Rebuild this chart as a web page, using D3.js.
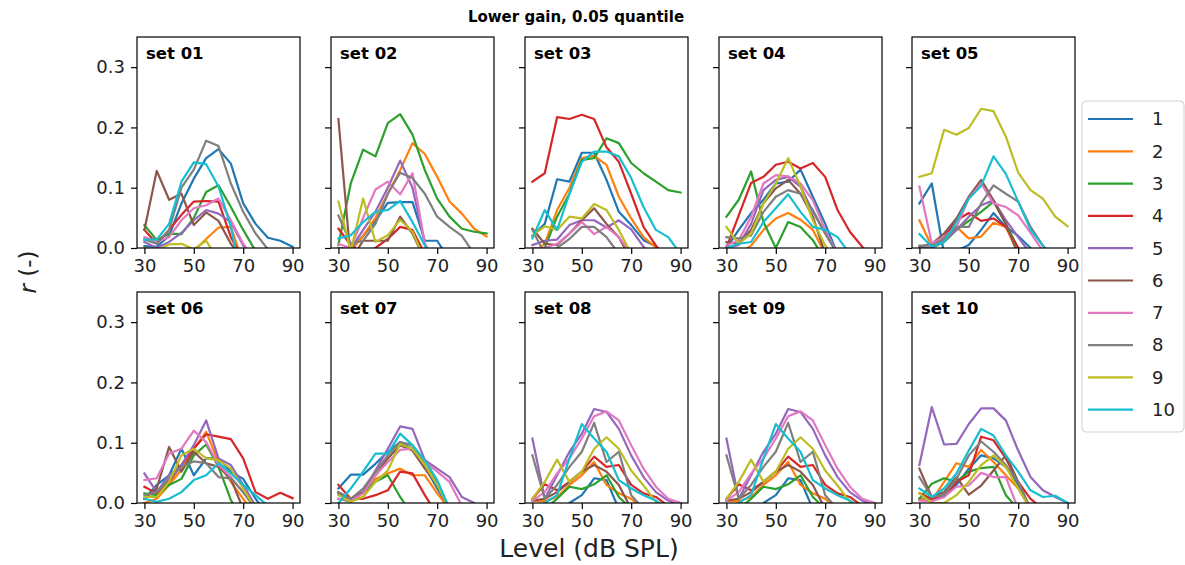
<!DOCTYPE html>
<html>
<head>
<meta charset="utf-8">
<script src="https://cdn.jsdelivr.net/npm/d3@7"></script>
<style>
  body { margin: 0; background: #fff; }
  svg { display: block; font-family: "DejaVu Sans", sans-serif; }
</style>
</head>
<body>
<svg id="chart" width="1185" height="565"></svg>
<script>
// Presentation levels (dB SPL) at which r was evaluated
const levels = [30, 35, 40, 45, 50, 55, 60, 65, 70, 75, 80, 85, 90];
const seriesNames = ["1", "2", "3", "4", "5", "6", "7", "8", "9", "10"];
const setNames = ["set 01", "set 02", "set 03", "set 04", "set 05",
                  "set 06", "set 07", "set 08", "set 09", "set 10"];
const xTicks = [30, 50, 70, 90];
const yTicks = [0, 0.1, 0.2, 0.3];
const palette = ["#1f77b4", "#ff7f0e", "#2ca02c", "#d62728", "#9467bd",
                 "#8c564b", "#e377c2", "#7f7f7f", "#bcbd22", "#17becf"];

// r per series (rows: series 1..10, columns: levels). Negative values fall below the axis.
const set01 = [
  [0.003, 0.002, 0.02, 0.074, 0.115, 0.149, 0.164, 0.14, 0.074, 0.04, 0.017, 0.012, 0.002],
  [-0.03, -0.03, -0.03, -0.02, -0.005, 0.015, 0.034, 0.035, -0.025, -0.03, -0.03, -0.03, -0.03],
  [0.038, 0.013, 0.024, 0.023, 0.05, 0.093, 0.104, 0.068, 0.03, -0.005, -0.03, -0.03, -0.03],
  [0.03, 0.007, 0.03, 0.055, 0.077, 0.078, 0.077, 0.018, -0.02, -0.03, -0.03, -0.03, -0.03],
  [0.01, 0.0, 0.01, 0.025, 0.046, 0.063, 0.057, 0.043, 0.004, -0.02, -0.03, -0.03, -0.03],
  [0.03, 0.128, 0.08, 0.09, 0.038, 0.059, 0.045, 0.007, -0.02, -0.03, -0.03, -0.03, -0.03],
  [0.018, 0.01, 0.018, 0.046, 0.066, 0.071, 0.082, 0.046, 0.007, -0.02, -0.03, -0.03, -0.03],
  [0.014, 0.007, 0.03, 0.1, 0.13, 0.178, 0.169, 0.107, 0.06, 0.024, -0.002, -0.02, -0.03],
  [0.0, -0.005, 0.006, 0.007, -0.002, 0.012, -0.02, -0.03, -0.03, -0.03, -0.03, -0.03, -0.03],
  [0.014, 0.014, 0.04, 0.11, 0.142, 0.139, 0.102, 0.035, -0.06, -0.06, -0.06, -0.06, -0.06]
];
const set02 = [
  [0.0, -0.002, 0.02, 0.045, 0.075, 0.076, 0.076, 0.012, 0.012, -0.02, -0.03, -0.03, -0.03],
  [0.0, -0.005, 0.02, 0.05, 0.09, 0.129, 0.174, 0.156, 0.118, 0.077, 0.057, 0.032, 0.019],
  [0.005, 0.107, 0.163, 0.152, 0.207, 0.222, 0.188, 0.129, 0.082, 0.052, 0.032, 0.027, 0.024],
  [0.032, 0.005, -0.01, 0.0, 0.015, 0.035, 0.03, -0.01, -0.03, -0.03, -0.03, -0.03, -0.03],
  [0.0, -0.002, 0.03, 0.06, 0.1, 0.145, 0.1, 0.007, -0.03, -0.03, -0.03, -0.03, -0.03],
  [0.214, -0.02, 0.012, 0.012, 0.012, 0.052, 0.024, -0.02, -0.03, -0.03, -0.03, -0.03, -0.03],
  [0.007, 0.0, 0.05, 0.097, 0.11, 0.089, 0.124, 0.007, -0.03, -0.03, -0.03, -0.03, -0.03],
  [0.054, 0.007, 0.012, 0.04, 0.09, 0.125, 0.116, 0.09, 0.052, 0.035, 0.02, -0.01, -0.03],
  [0.077, -0.005, 0.082, 0.01, 0.021, 0.047, 0.027, -0.02, -0.03, -0.03, -0.03, -0.03, -0.03],
  [0.016, 0.021, 0.043, 0.06, 0.063, 0.078, 0.043, 0.004, -0.03, -0.03, -0.03, -0.03, -0.03]
];
const set03 = [
  [0.02, 0.04, 0.114, 0.11, 0.158, 0.158, 0.113, 0.06, 0.038, 0.013, 0.003, -0.02, -0.03],
  [-0.01, 0.007, 0.063, 0.1, 0.149, 0.153, 0.138, 0.085, 0.049, 0.018, 0.001, -0.02, -0.03],
  [-0.02, 0.0, 0.052, 0.09, 0.146, 0.149, 0.182, 0.174, 0.141, 0.124, 0.11, 0.096, 0.092],
  [0.11, 0.124, 0.217, 0.214, 0.221, 0.214, 0.167, 0.143, 0.09, 0.035, 0.004, -0.02, -0.03],
  [0.005, 0.012, 0.014, 0.038, 0.046, 0.046, 0.034, 0.046, 0.031, 0.002, -0.02, -0.03, -0.03],
  [0.032, 0.007, 0.005, 0.024, 0.046, 0.066, 0.04, 0.018, -0.02, -0.03, -0.03, -0.03, -0.03],
  [0.0, 0.0, 0.007, 0.024, 0.043, 0.023, 0.035, 0.018, -0.01, -0.03, -0.03, -0.03, -0.03],
  [0.03, -0.01, 0.0, 0.015, 0.035, 0.035, 0.018, -0.01, -0.03, -0.03, -0.03, -0.03, -0.03],
  [0.021, 0.036, 0.03, 0.052, 0.049, 0.073, 0.063, 0.03, -0.01, -0.03, -0.03, -0.03, -0.03],
  [0.016, 0.063, 0.03, 0.09, 0.143, 0.16, 0.16, 0.152, 0.116, 0.068, 0.03, 0.018, -0.01]
];
const set04 = [
  [0.0, 0.03, 0.058, 0.08, 0.107, 0.11, 0.13, 0.085, 0.04, -0.01, -0.03, -0.03, -0.03],
  [-0.02, -0.01, 0.004, 0.03, 0.049, 0.058, 0.047, 0.03, -0.01, -0.03, -0.03, -0.03, -0.03],
  [0.052, 0.08, 0.127, 0.043, 0.0, 0.043, 0.035, 0.013, -0.02, -0.03, -0.03, -0.03, -0.03],
  [0.0, 0.054, 0.108, 0.118, 0.138, 0.143, 0.132, 0.141, 0.118, 0.063, 0.027, 0.002, -0.02],
  [0.0, 0.005, 0.04, 0.096, 0.113, 0.118, 0.102, 0.06, 0.024, -0.01, -0.03, -0.03, -0.03],
  [0.01, 0.007, 0.03, 0.074, 0.099, 0.113, 0.09, 0.052, -0.01, -0.03, -0.03, -0.03, -0.03],
  [0.004, 0.013, 0.052, 0.107, 0.121, 0.119, 0.107, 0.079, 0.03, -0.01, -0.03, -0.03, -0.03],
  [0.018, 0.016, 0.021, 0.06, 0.085, 0.096, 0.09, 0.063, 0.024, -0.01, -0.03, -0.03, -0.03],
  [0.035, 0.007, 0.024, 0.074, 0.107, 0.149, 0.102, 0.046, 0.004, -0.02, -0.03, -0.03, -0.03],
  [0.0, 0.007, 0.01, 0.043, 0.066, 0.089, 0.06, 0.035, 0.03, 0.018, -0.01, -0.03, -0.03]
];
const set05 = [
  [0.074, 0.107, -0.01, -0.005, 0.005, 0.03, 0.058, 0.035, 0.02, 0.0, -0.02, -0.03, -0.03],
  [0.046, 0.003, 0.013, 0.035, 0.016, 0.019, 0.042, 0.035, -0.01, -0.03, -0.03, -0.03, -0.03],
  [-0.01, 0.0, 0.01, 0.03, 0.045, 0.06, 0.077, 0.04, 0.0, -0.02, -0.03, -0.03, -0.03],
  [-0.01, 0.0, 0.018, 0.046, 0.058, 0.045, 0.049, 0.035, 0.0, -0.02, -0.03, -0.03, -0.03],
  [0.0, 0.0, 0.013, 0.03, 0.052, 0.071, 0.079, 0.046, 0.018, -0.01, -0.03, -0.03, -0.03],
  [0.002, 0.007, 0.024, 0.049, 0.085, 0.113, 0.079, 0.04, -0.01, -0.03, -0.03, -0.03, -0.03],
  [0.102, 0.008, 0.018, 0.035, 0.082, 0.107, 0.074, 0.068, 0.054, 0.025, -0.005, -0.02, -0.03],
  [0.004, 0.004, 0.016, 0.035, 0.035, 0.074, 0.104, 0.09, 0.077, 0.035, 0.004, -0.02, -0.03],
  [0.118, 0.124, 0.196, 0.188, 0.199, 0.231, 0.227, 0.185, 0.125, 0.096, 0.082, 0.052, 0.036],
  [0.023, 0.002, 0.01, 0.043, 0.082, 0.103, 0.152, 0.123, 0.077, 0.03, 0.004, -0.02, -0.03]
];
const set06 = [
  [0.007, 0.03, 0.046, 0.09, 0.046, 0.074, 0.074, 0.052, 0.04, 0.007, -0.02, -0.03, -0.03],
  [0.0, 0.007, 0.03, 0.055, 0.09, 0.118, 0.068, 0.035, 0.007, -0.02, -0.03, -0.03, -0.03],
  [0.016, 0.013, 0.03, 0.04, 0.079, 0.097, 0.06, 0.005, -0.03, -0.03, -0.03, -0.03, -0.03],
  [0.027, 0.016, 0.035, 0.063, 0.09, 0.114, 0.11, 0.106, 0.074, 0.018, 0.007, 0.017, 0.008],
  [0.049, 0.018, 0.046, 0.063, 0.096, 0.137, 0.074, 0.063, 0.03, -0.005, -0.03, -0.03, -0.03],
  [0.007, 0.024, 0.093, 0.052, 0.085, 0.066, 0.06, 0.04, -0.01, -0.03, -0.03, -0.03, -0.03],
  [0.038, 0.041, 0.082, 0.09, 0.12, 0.101, 0.063, 0.043, 0.018, -0.01, -0.03, -0.03, -0.03],
  [0.013, 0.018, 0.04, 0.06, 0.069, 0.066, 0.043, 0.041, 0.018, -0.01, -0.03, -0.03, -0.03],
  [0.01, 0.01, 0.035, 0.079, 0.09, 0.074, 0.071, 0.057, 0.024, -0.01, -0.03, -0.03, -0.03],
  [0.007, 0.002, 0.007, 0.018, 0.038, 0.046, 0.066, 0.049, 0.03, 0.013, -0.005, -0.03, -0.03]
];
const set07 = [
  [0.024, 0.047, 0.047, 0.065, 0.085, 0.101, 0.09, 0.06, 0.024, -0.01, -0.03, -0.03, -0.03],
  [0.015, 0.004, 0.01, 0.04, 0.049, 0.057, 0.046, 0.046, 0.016, -0.01, -0.03, -0.03, -0.03],
  [0.007, 0.002, 0.018, 0.035, 0.046, 0.01, -0.02, -0.03, -0.03, -0.03, -0.03, -0.03, -0.03],
  [0.03, 0.007, 0.007, 0.013, 0.021, 0.052, 0.049, 0.013, -0.02, -0.03, -0.03, -0.03, -0.03],
  [0.016, 0.007, 0.018, 0.054, 0.09, 0.127, 0.123, 0.071, 0.057, 0.043, 0.01, 0.0, -0.02],
  [0.018, 0.007, 0.018, 0.046, 0.074, 0.096, 0.087, 0.057, 0.03, -0.01, -0.03, -0.03, -0.03],
  [0.007, 0.004, 0.016, 0.046, 0.068, 0.088, 0.09, 0.068, 0.052, 0.035, -0.005, -0.03, -0.03],
  [0.018, 0.007, 0.024, 0.052, 0.079, 0.101, 0.096, 0.063, 0.035, -0.01, -0.03, -0.03, -0.03],
  [0.013, 0.002, 0.01, 0.035, 0.054, 0.098, 0.09, 0.063, 0.03, -0.01, -0.03, -0.03, -0.03],
  [0.0, 0.024, 0.052, 0.082, 0.082, 0.115, 0.096, 0.071, 0.038, -0.01, -0.03, -0.03, -0.03]
];
const set08 = [
  [-0.02, -0.02, -0.02, 0.0, 0.013, 0.041, 0.038, -0.01, -0.03, -0.03, -0.03, -0.03, -0.03],
  [0.004, 0.003, 0.01, 0.03, 0.046, 0.068, 0.03, 0.016, 0.007, -0.01, -0.03, -0.03, -0.03],
  [-0.02, -0.01, 0.007, 0.027, 0.023, 0.031, 0.046, 0.01, -0.01, -0.03, -0.03, -0.03, -0.03],
  [0.007, 0.031, 0.021, 0.035, 0.052, 0.077, 0.06, 0.063, 0.03, 0.016, 0.01, -0.005, -0.02],
  [0.107, 0.007, 0.046, 0.085, 0.115, 0.156, 0.151, 0.123, 0.079, 0.043, 0.018, 0.004, -0.005],
  [0.004, 0.007, 0.018, 0.035, 0.052, 0.063, 0.052, 0.03, -0.01, -0.03, -0.03, -0.03, -0.03],
  [0.004, 0.018, 0.049, 0.074, 0.107, 0.144, 0.152, 0.137, 0.096, 0.057, 0.027, 0.007, 0.0],
  [0.079, 0.007, 0.03, 0.06, 0.085, 0.133, 0.068, 0.085, 0.013, -0.01, -0.03, -0.03, -0.03],
  [0.007, 0.035, 0.072, 0.035, 0.052, 0.09, 0.109, 0.09, 0.054, 0.029, 0.002, -0.02, -0.03],
  [-0.01, 0.0, 0.013, 0.074, 0.131, 0.107, 0.085, 0.038, 0.024, 0.013, 0.004, -0.01, -0.03]
];
const set09 = [
  [-0.02, -0.02, -0.02, 0.0, 0.013, 0.041, 0.038, -0.01, -0.03, -0.03, -0.03, -0.03, -0.03],
  [0.004, 0.003, 0.01, 0.03, 0.046, 0.068, 0.03, 0.016, 0.007, -0.01, -0.03, -0.03, -0.03],
  [-0.02, -0.01, 0.007, 0.027, 0.023, 0.031, 0.046, 0.01, -0.01, -0.03, -0.03, -0.03, -0.03],
  [0.007, 0.031, 0.021, 0.035, 0.052, 0.077, 0.06, 0.063, 0.03, 0.016, 0.01, -0.005, -0.02],
  [0.107, 0.007, 0.046, 0.085, 0.115, 0.156, 0.151, 0.123, 0.079, 0.043, 0.018, 0.004, -0.005],
  [0.004, 0.007, 0.018, 0.035, 0.052, 0.063, 0.052, 0.03, -0.01, -0.03, -0.03, -0.03, -0.03],
  [0.004, 0.018, 0.049, 0.074, 0.107, 0.144, 0.152, 0.137, 0.096, 0.057, 0.027, 0.007, 0.0],
  [0.079, 0.007, 0.03, 0.06, 0.085, 0.133, 0.068, 0.085, 0.013, -0.01, -0.03, -0.03, -0.03],
  [0.007, 0.035, 0.072, 0.035, 0.052, 0.09, 0.109, 0.09, 0.054, 0.029, 0.002, -0.02, -0.03],
  [-0.01, 0.0, 0.013, 0.074, 0.131, 0.107, 0.085, 0.038, 0.024, 0.013, 0.004, -0.01, -0.03]
];
const set10 = [
  [0.007, 0.007, 0.013, 0.03, 0.057, 0.079, 0.074, 0.06, 0.03, -0.01, -0.03, -0.03, -0.03],
  [0.007, 0.004, 0.035, 0.066, 0.06, 0.088, 0.068, 0.046, 0.024, -0.01, -0.03, -0.03, -0.03],
  [0.007, 0.032, 0.041, 0.035, 0.052, 0.058, 0.06, 0.013, -0.01, -0.03, -0.03, -0.03, -0.03],
  [0.016, 0.007, 0.01, 0.035, 0.046, 0.11, 0.104, 0.074, 0.035, 0.007, -0.01, -0.03, -0.03],
  [0.063, 0.159, 0.097, 0.098, 0.131, 0.157, 0.157, 0.137, 0.087, 0.043, 0.021, 0.01, 0.0],
  [0.057, 0.01, 0.018, 0.043, 0.014, 0.029, 0.054, 0.079, 0.035, -0.01, -0.03, -0.03, -0.03],
  [0.004, 0.003, 0.01, 0.027, 0.029, 0.05, 0.043, 0.043, -0.01, -0.03, -0.03, -0.03, -0.03],
  [0.043, 0.01, 0.013, 0.04, 0.079, 0.102, 0.085, 0.063, 0.035, -0.01, -0.03, -0.03, -0.03],
  [0.016, 0.0, 0.0, 0.013, 0.035, 0.063, 0.079, 0.06, 0.024, -0.01, -0.03, -0.03, -0.03],
  [0.024, 0.01, 0.024, 0.049, 0.087, 0.123, 0.112, 0.079, 0.052, 0.021, 0.01, 0.012, 0.0]
];
const sets = [set01, set02, set03, set04, set05, set06, set07, set08, set09, set10];

// ---- layout ----
const svg = d3.select("#chart");
const panelW = 163, panelH = 211;
const colLeft = [137, 331, 525, 719, 912];
const rowTop = [37, 292];
const tickFont = 18;

const x = d3.scaleLinear().domain([27, 93]).range([0, panelW]);
const y = d3.scaleLinear().domain([0, 0.35]).range([panelH, 0]);
const line = d3.line().x((d, i) => x(levels[i])).y(d => y(d));

svg.append("text")
  .attr("x", 576).attr("y", 22)
  .attr("text-anchor", "middle")
  .attr("font-weight", "bold").attr("font-size", 15)
  .text("Lower gain, 0.05 quantile");

sets.forEach((setData, k) => {
  const col = k % 5, row = Math.floor(k / 5);
  const g = svg.append("g")
    .attr("transform", `translate(${colLeft[col]},${rowTop[row]})`);

  const clipId = "clip" + k;
  g.append("clipPath").attr("id", clipId)
    .append("rect").attr("width", panelW).attr("height", panelH);

  const plot = g.append("g").attr("clip-path", `url(#${clipId})`);
  setData.forEach((vals, s) => {
    plot.append("path")
      .datum(vals)
      .attr("d", line)
      .attr("fill", "none")
      .attr("stroke", palette[s])
      .attr("stroke-width", 2.2)
      .attr("stroke-linejoin", "round")
      .attr("stroke-linecap", "square");
  });

  // axes
  const xAxis = d3.axisBottom(x).tickValues(xTicks).tickSize(6).tickPadding(5);
  const gx = g.append("g").attr("transform", `translate(0,${panelH})`).call(xAxis);
  const yAxis = d3.axisLeft(y).tickValues(yTicks).tickSize(6).tickPadding(6)
    .tickFormat(col === 0 ? d3.format(".1f") : () => "");
  const gy = g.append("g").call(yAxis);
  [gx, gy].forEach(a => {
    a.select(".domain").remove();
    a.selectAll("line").attr("stroke", "#000").attr("stroke-width", 1.2);
    a.selectAll("text").attr("font-size", tickFont)
      .attr("font-family", "DejaVu Sans, sans-serif").attr("fill", "#222");
  });

  // frame
  g.append("rect").attr("width", panelW).attr("height", panelH)
    .attr("fill", "none").attr("stroke", "#000").attr("stroke-width", 1.2);

  g.append("text").attr("x", 9).attr("y", 22)
    .attr("font-weight", "bold").attr("font-size", 16.5)
    .text(setNames[k]);
});

// axis titles
svg.append("text")
  .attr("transform", "translate(36,272) rotate(-90)")
  .attr("text-anchor", "middle").attr("font-size", 23).attr("fill", "#222")
  .html('<tspan font-style="italic">r</tspan> (-)');

svg.append("text")
  .attr("x", 589).attr("y", 557)
  .attr("text-anchor", "middle").attr("font-size", 25).attr("fill", "#222")
  .text("Level (dB SPL)");

// legend
const lg = svg.append("g").attr("transform", "translate(1082,101)");
lg.append("rect").attr("width", 102).attr("height", 331).attr("rx", 4)
  .attr("fill", "#fff").attr("stroke", "#d0d0d0").attr("stroke-width", 1);
seriesNames.forEach((name, i) => {
  const yy = 18 + i * 32.3;
  lg.append("line").attr("x1", 6).attr("x2", 51).attr("y1", yy).attr("y2", yy)
    .attr("stroke", palette[i]).attr("stroke-width", 2.2);
  lg.append("text").attr("x", 70).attr("y", yy).attr("dy", "0.35em")
    .attr("font-size", 18).attr("fill", "#222").text(name);
});
</script>
</body>
</html>
